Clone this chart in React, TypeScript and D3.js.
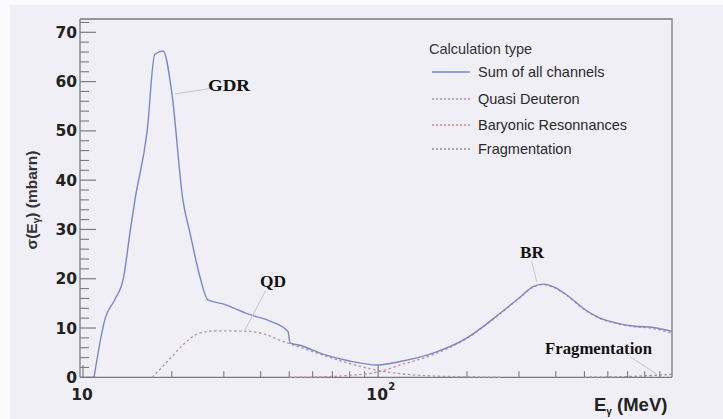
import React from "react";
import * as d3 from "d3";

// ---- data ----
const sumE = [10.9, 11.9, 12.8, 13.7, 14.4, 15.0, 16.5, 17.5, 18.7, 20.0, 21.8, 23.1, 24.9, 26.5, 29.8, 36.8, 43, 49.5, 50.3, 55, 65, 80, 100, 118.8, 153.5, 200, 259, 303, 335, 363, 395, 436, 495, 565, 644, 731, 855, 990];
const sumV = [0, 12, 15.7, 20, 29, 36, 50, 65.5, 66.2, 57.7, 36, 29, 20.4, 15.7, 14.9, 12.7, 11.4, 9.3, 7.0, 6.4, 4.7, 3.3, 2.5, 3.2, 4.9, 8.0, 13, 16.3, 18.4, 18.9, 18.3, 16.7, 14.0, 12.0, 11.0, 10.4, 10.1, 9.3];

const qdE = [17.15, 18.5, 20, 22, 24.9, 28, 32, 36.8, 42, 47, 55, 65, 80, 100, 120, 150, 200, 260];
const qdV = [0, 2.0, 4.2, 6.8, 9.0, 9.4, 9.4, 9.3, 8.6, 7.4, 6.0, 4.5, 2.8, 1.4, 0.7, 0.3, 0.1, 0];

const brE = [50, 65, 80, 100, 118.8, 153.5, 200, 259, 303, 335, 363, 395, 436, 495, 565, 644, 731, 855, 990];
const brV = [0, 0.1, 0.4, 1.1, 2.5, 4.6, 7.9, 12.9, 16.2, 18.3, 18.8, 18.2, 16.6, 13.9, 11.9, 10.9, 10.3, 9.9, 8.9];

const frE = [500, 600, 700, 800, 900, 990];
const frV = [0, 0.05, 0.15, 0.3, 0.45, 0.6];

const yTicks = [0, 10, 20, 30, 40, 50, 60, 70];
const xMajor = [10, 100];
const legendLabels = ["Sum of all channels", "Quasi Deuteron", "Baryonic Resonnances", "Fragmentation"];

const W = 723, H = 419;
const L = 80, R = 672, T = 19, B = 377.3;

const C_SUM = "#7c86c6";
const C_QD = "#a99a9e";
const C_BR = "#c98c94";
const C_FR = "#8f8f95";
const C_AX = "#7a7a80";

export default function App() {
  const x = d3.scaleLog().domain([9.77, 990]).range([L, R]);
  const y = d3.scaleLinear().domain([0, 72.7]).range([B, T]);

  const mk = (E: number[], V: number[], curve: any) =>
    d3.line<number>().x((_, i) => x(E[i])).y((_, i) => y(V[i])).curve(curve)(V as any) || "";

  const yMinor: number[] = d3.range(0, 73, 2).filter((v) => v % 10 !== 0);
  const xMinor: number[] = [];
  [10, 100].forEach((dec) => {
    for (let k = 2; k <= 9; k++) {
      const v = dec * k;
      if (v <= 990) xMinor.push(v);
    }
  });

  const legendColors = [C_SUM, C_QD, C_BR, C_FR];
  const legY = [72, 99, 125, 149];
  const sans = "'Liberation Sans', Arial, Helvetica, sans-serif";

  return (
    <svg width={W} height={H} style={{ position: "absolute", left: 0, top: 0 }} xmlns="http://www.w3.org/2000/svg">
      <rect x={0} y={0} width={W} height={H} fill="#fbfbfd" />
      <rect x={10} y={5} width={W - 10} height={H - 5} fill="#f1eff6" />

      {/* frame */}
      <path d={`M${L},${T} H${R} V${B}`} fill="none" stroke={C_AX} strokeWidth={1.3} />
      <line x1={L} y1={T} x2={L} y2={B} stroke={C_AX} strokeWidth={1.3} />
      <line x1={L} y1={B} x2={R} y2={B} stroke={C_AX} strokeWidth={1.3} />

      {/* y ticks */}
      {yTicks.map((t) => (
        <g key={"yt" + t}>
          <line x1={L} x2={L + 16} y1={y(t)} y2={y(t)} stroke={C_AX} strokeWidth={1.2} />
          <text x={77} y={y(t) + 5.5} textAnchor="end" fontFamily="'DejaVu Sans', sans-serif" fontWeight="bold" fontSize={15.5} fill="#222">
            {t}
          </text>
        </g>
      ))}
      {yMinor.map((t) => (
        <line key={"ym" + t} x1={L} x2={L + 9} y1={y(t)} y2={y(t)} stroke={C_AX} strokeWidth={1.1} />
      ))}

      {/* x ticks */}
      {xMajor.map((t) => (
        <line key={"xt" + t} x1={x(t)} x2={x(t)} y1={B} y2={B - 12} stroke={C_AX} strokeWidth={1.2} />
      ))}
      {xMinor.map((t) => (
        <line key={"xm" + t} x1={x(t)} x2={x(t)} y1={B} y2={B - 6} stroke={C_AX} strokeWidth={1.1} />
      ))}
      <text x={x(10) - 1} y={400} textAnchor="middle" fontFamily="'DejaVu Sans', sans-serif" fontWeight="bold" fontSize={15.5} fill="#222">10</text>
      <text x={x(100) - 1} y={400} textAnchor="middle" fontFamily="'DejaVu Sans', sans-serif" fontWeight="bold" fontSize={15.5} fill="#222">10</text>
      <text x={x(100) + 10} y={390} textAnchor="start" fontFamily="'DejaVu Sans', sans-serif" fontWeight="bold" fontSize={10} fill="#222">2</text>

      {/* axis titles */}
      <text x={594} y={411} fontFamily={sans} fontWeight="bold" fontSize={18.5} fill="#222">
        E<tspan fontSize={10} dy={4}>γ</tspan><tspan dy={-4}> (MeV)</tspan>
      </text>
      <text transform="translate(37,200) rotate(-90)" textAnchor="middle" fontFamily={sans} fontWeight="bold" fontSize={15.5} fill="#333">
        σ(E<tspan fontSize={10} dy={3}>γ</tspan><tspan dy={-3}>) (mbarn)</tspan>
      </text>

      {/* curves */}
      <path d={mk(qdE, qdV, d3.curveMonotoneX)} fill="none" stroke={C_QD} strokeWidth={1.3} strokeDasharray="2.5,2.5" />
      <path d={mk(frE, frV, d3.curveMonotoneX)} fill="none" stroke={C_FR} strokeWidth={1.3} strokeDasharray="2.5,2.5" />
      <path d={mk(brE, brV, d3.curveMonotoneX)} fill="none" stroke={C_BR} strokeWidth={1.3} strokeDasharray="2.5,2.5" />
      <path d={mk(sumE, sumV, d3.curveMonotoneX)} fill="none" stroke={C_SUM} strokeWidth={1.4} />

      {/* annotations */}
      <g stroke="#c4c4c8" strokeWidth={1}>
        <line x1={213} y1={88} x2={175} y2={94} />
        <line x1={265.7} y1={290.7} x2={245} y2={330} />
        <line x1={531.7} y1={261.7} x2={536.7} y2={281.7} />
        <line x1={630} y1={356.7} x2={656.7} y2={374} />
      </g>
      <g fontFamily="'Liberation Serif', 'Times New Roman', serif" fontWeight="bold" fill="#111">
        <text x={208} y={91} fontSize={16} textLength={42} lengthAdjust="spacingAndGlyphs">GDR</text>
        <text x={260} y={287} fontSize={16} textLength={26} lengthAdjust="spacingAndGlyphs">QD</text>
        <text x={520} y={258} fontSize={16} textLength={24} lengthAdjust="spacingAndGlyphs">BR</text>
        <text x={545} y={354} fontSize={16} textLength={107} lengthAdjust="spacingAndGlyphs">Fragmentation</text>
      </g>

      {/* legend */}
      <text x={429} y={54} fontFamily={sans} fontSize={14.5} fill="#333">Calculation type</text>
      {legendLabels.map((lab, i) => (
        <g key={lab}>
          <line x1={432} x2={470} y1={legY[i]} y2={legY[i]} stroke={legendColors[i]} strokeWidth={1.3} strokeDasharray={i === 0 ? undefined : "2,2"} />
          <text x={478} y={legY[i] + 5} fontFamily={sans} fontSize={14.5} fill="#2a2a2a">{lab}</text>
        </g>
      ))}
    </svg>
  );
}
